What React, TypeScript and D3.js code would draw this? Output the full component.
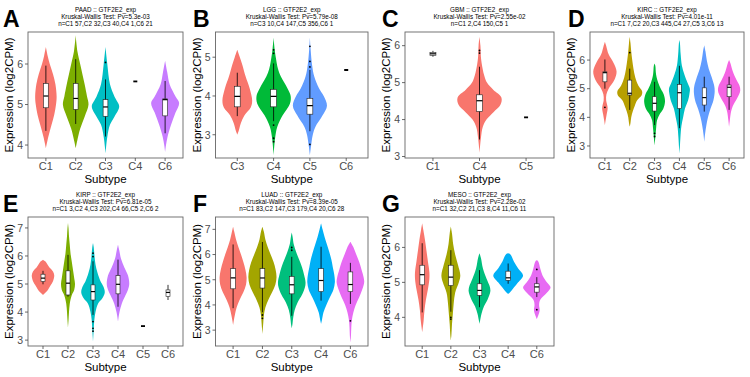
import React from "react";
import * as d3 from "d3";

type Profile = [number, number][];
type Box = [number, number, number, number, number];

// ---------- Panel A: PAAD ----------
const paadCategories = ["C1", "C2", "C3", "C4", "C6"];
const paadColors = ["#F8766D", "#7CAE00", "#00BFC4", "", "#C77CFF"];
const paadViolins: Profile[] = [
  [[6.42, 0], [6.2, 0.06], [6.0, 0.13], [5.75, 0.24], [5.5, 0.32], [5.2, 0.36], [5.0, 0.34], [4.75, 0.28], [4.5, 0.19], [4.2, 0.08], [3.92, 0]],
  [[6.71, 0], [6.3, 0.06], [6.0, 0.15], [5.5, 0.3], [5.2, 0.38], [5.0, 0.43], [4.7, 0.3], [4.4, 0.15], [4.1, 0.05], [3.92, 0]],
  [[6.42, 0], [6.0, 0.06], [5.5, 0.15], [5.2, 0.3], [4.95, 0.46], [4.7, 0.3], [4.5, 0.15], [4.2, 0.06], [3.95, 0.02], [3.79, 0]],
  [],
  [[6.08, 0], [5.8, 0.07], [5.5, 0.15], [5.2, 0.35], [5.04, 0.47], [4.8, 0.35], [4.5, 0.2], [4.2, 0.08], [4.0, 0.03], [3.83, 0]],
];
const paadBoxes: Box[] = [
  [4.35, 4.92, 5.21, 5.52, 5.96],
  [4.52, 4.88, 5.15, 5.52, 6.12],
  [4.21, 4.71, 4.94, 5.12, 5.62],
  [5.57, 5.57, 5.57, 5.57, 5.57],
  [4.29, 4.72, 5.12, 5.14, 5.58],
];
const paadOutliers: number[][] = [[], [], [6.04], [], []];
const paadDomain = [3.68, 6.79];
const paadTicks = [4, 5, 6];

// ---------- Panel B: LGG ----------
const lggCategories = ["C3", "C4", "C5", "C6"];
const lggColors = ["#F8766D", "#00BA38", "#619CFF", ""];
const lggViolins: Profile[] = [
  [[5.19, 0], [5.0, 0.07], [4.8, 0.14], [4.5, 0.23], [4.2, 0.34], [3.88, 0.41], [3.7, 0.37], [3.5, 0.2], [3.3, 0.1], [3.1, 0.04], [3.0, 0]],
  [[5.5, 0], [5.2, 0.03], [5.0, 0.06], [4.7, 0.12], [4.5, 0.2], [4.2, 0.38], [4.0, 0.47], [3.8, 0.45], [3.5, 0.25], [3.2, 0.1], [2.9, 0.04], [2.47, 0]],
  [[5.5, 0], [5.2, 0.02], [4.8, 0.06], [4.5, 0.12], [4.2, 0.25], [4.0, 0.38], [3.75, 0.47], [3.5, 0.35], [3.2, 0.15], [3.0, 0.08], [2.7, 0.03], [2.47, 0]],
  [],
];
const lggBoxes: Box[] = [
  [3.48, 3.72, 3.99, 4.25, 4.6],
  [3.35, 3.72, 3.99, 4.17, 4.84],
  [3.09, 3.53, 3.75, 3.94, 4.67],
  [4.67, 4.67, 4.67, 4.67, 4.67],
];
const lggOutliers: number[][] = [[], [5.19, 5.1, 3.25, 2.91, 2.82], [5.28, 4.89, 4.75, 2.75], []];
const lggDomain = [2.4, 5.65];
const lggTicks = [3, 4, 5];

// ---------- Panel C: GBM ----------
const gbmCategories = ["C1", "C4", "C5"];
const gbmColors = ["", "#F8766D", ""];
const gbmViolins: Profile[] = [
  [],
  [[6.24, 0], [6.0, 0.02], [5.7, 0.03], [5.5, 0.05], [5.2, 0.1], [5.0, 0.16], [4.8, 0.3], [4.6, 0.47], [4.4, 0.45], [4.2, 0.3], [4.0, 0.15], [3.8, 0.07], [3.5, 0.03], [3.1, 0]],
  [],
];
const gbmBoxes: Box[] = [
  [5.7, 5.74, 5.78, 5.82, 5.86],
  [3.46, 4.22, 4.51, 4.67, 5.43],
  [4.06, 4.06, 4.06, 4.06, 4.06],
];
const gbmOutliers: number[][] = [[], [5.87, 5.8], []];
const gbmDomain = [2.96, 6.37];
const gbmTicks = [3, 4, 5, 6];

// ---------- Panel D: KIRC ----------
const kircCategories = ["C1", "C2", "C3", "C4", "C5", "C6"];
const kircColors = ["#F8766D", "#B79F00", "#00BA38", "#00BFC4", "#619CFF", "#F564E3"];
const kircViolins: Profile[] = [
  [[6.64, 0], [6.5, 0.05], [6.2, 0.15], [5.9, 0.35], [5.6, 0.47], [5.3, 0.38], [5.0, 0.15], [4.8, 0.06], [4.6, 0.05], [4.4, 0.1], [4.3, 0.11], [4.1, 0.07], [3.9, 0.03], [3.73, 0]],
  [[6.81, 0], [6.6, 0.03], [6.3, 0.06], [6.0, 0.1], [5.7, 0.15], [5.4, 0.22], [5.1, 0.35], [4.9, 0.5], [4.75, 0.47], [4.6, 0.3], [4.4, 0.2], [4.2, 0.12], [4.0, 0.06], [3.8, 0.03], [3.67, 0]],
  [[5.88, 0], [5.8, 0.03], [5.5, 0.06], [5.2, 0.15], [5.0, 0.25], [4.8, 0.37], [4.55, 0.42], [4.3, 0.35], [4.1, 0.2], [3.9, 0.1], [3.6, 0.06], [3.3, 0.03], [3.03, 0]],
  [[6.7, 0], [6.6, 0.02], [6.2, 0.05], [5.8, 0.1], [5.5, 0.2], [5.2, 0.33], [5.0, 0.42], [4.8, 0.4], [4.6, 0.35], [4.3, 0.22], [4.0, 0.15], [3.7, 0.08], [3.3, 0.04], [3.0, 0.02], [2.74, 0]],
  [[6.52, 0], [6.3, 0.05], [6.0, 0.1], [5.7, 0.18], [5.4, 0.3], [5.1, 0.4], [4.9, 0.42], [4.6, 0.37], [4.3, 0.25], [4.0, 0.15], [3.7, 0.08], [3.4, 0.03], [3.15, 0]],
  [[6.0, 0], [5.9, 0.05], [5.6, 0.15], [5.3, 0.3], [5.1, 0.42], [4.95, 0.45], [4.8, 0.4], [4.6, 0.28], [4.4, 0.15], [4.2, 0.08], [3.9, 0.03], [3.67, 0]],
];
const kircBoxes: Box[] = [
  [5.0, 5.24, 5.56, 5.59, 6.02],
  [4.26, 4.78, 4.84, 5.3, 5.7],
  [3.73, 4.22, 4.49, 4.72, 5.24],
  [3.62, 4.31, 4.86, 5.15, 5.8],
  [4.2, 4.43, 4.69, 5.03, 5.42],
  [4.26, 4.72, 5.05, 5.13, 5.42],
];
const kircOutliers: number[][] = [[4.35], [6.26], [3.44, 3.33], [], [], []];
const kircDomain = [2.58, 6.98];
const kircTicks = [3, 4, 5, 6];

// ---------- Panel E: KIRP ----------
const kirpCategories = ["C1", "C2", "C3", "C4", "C5", "C6"];
const kirpColors = ["#F8766D", "#7CAE00", "#00BFC4", "#C77CFF", "", ""];
const kirpViolins: Profile[] = [
  [[5.87, 0], [5.8, 0.1], [5.6, 0.25], [5.45, 0.4], [5.3, 0.45], [5.1, 0.4], [4.95, 0.3], [4.8, 0.2], [4.65, 0.05], [4.61, 0]],
  [[7.18, 0], [7.0, 0.02], [6.7, 0.04], [6.4, 0.07], [6.1, 0.1], [5.8, 0.15], [5.5, 0.2], [5.2, 0.25], [5.0, 0.28], [4.8, 0.25], [4.6, 0.15], [4.3, 0.07], [4.0, 0.04], [3.7, 0.02], [3.44, 0]],
  [[6.46, 0], [6.3, 0.03], [6.0, 0.06], [5.7, 0.1], [5.4, 0.18], [5.1, 0.3], [4.9, 0.42], [4.7, 0.47], [4.5, 0.38], [4.3, 0.2], [4.0, 0.1], [3.7, 0.05], [3.4, 0.03], [3.1, 0.01], [2.94, 0]],
  [[6.4, 0], [6.2, 0.05], [5.9, 0.12], [5.6, 0.25], [5.3, 0.4], [5.0, 0.45], [4.8, 0.4], [4.6, 0.3], [4.3, 0.15], [4.0, 0.06], [3.8, 0.02], [3.66, 0]],
  [],
  [],
];
const kirpBoxes: Box[] = [
  [4.99, 5.09, 5.21, 5.35, 5.47],
  [4.55, 4.61, 5.03, 5.47, 6.04],
  [3.9, 4.43, 4.73, 4.97, 5.81],
  [4.19, 4.65, 4.99, 5.3, 5.87],
  [3.5, 3.5, 3.5, 3.5, 3.5],
  [4.43, 4.55, 4.7, 4.79, 4.97],
];
const kirpOutliers: number[][] = [[], [], [6.1, 5.98, 3.66, 3.42, 3.32], [], [], []];
const kirpDomain = [2.79, 7.39];
const kirpTicks = [3, 4, 5, 6, 7];

// ---------- Panel F: LUAD ----------
const luadCategories = ["C1", "C2", "C3", "C4", "C6"];
const luadColors = ["#F8766D", "#A3A500", "#00BF7D", "#00B0F6", "#E76BF3"];
const luadViolins: Profile[] = [
  [[7.1, 0], [6.9, 0.04], [6.6, 0.1], [6.3, 0.18], [6.0, 0.27], [5.7, 0.35], [5.4, 0.42], [5.1, 0.46], [4.8, 0.44], [4.5, 0.35], [4.2, 0.22], [3.9, 0.12], [3.6, 0.06], [3.35, 0.02], [3.2, 0]],
  [[7.1, 0], [6.9, 0.05], [6.6, 0.1], [6.3, 0.18], [6.0, 0.28], [5.7, 0.38], [5.4, 0.45], [5.1, 0.48], [4.8, 0.44], [4.5, 0.33], [4.2, 0.2], [3.9, 0.1], [3.6, 0.05], [3.3, 0.03], [3.0, 0.01], [2.84, 0]],
  [[6.87, 0], [6.7, 0.03], [6.4, 0.07], [6.1, 0.15], [5.8, 0.25], [5.5, 0.35], [5.2, 0.42], [4.9, 0.47], [4.7, 0.45], [4.4, 0.35], [4.1, 0.2], [3.8, 0.1], [3.5, 0.05], [3.2, 0.02], [3.07, 0]],
  [[7.24, 0], [7.0, 0.05], [6.7, 0.12], [6.4, 0.2], [6.1, 0.28], [5.8, 0.35], [5.5, 0.4], [5.2, 0.45], [4.9, 0.47], [4.6, 0.42], [4.3, 0.3], [4.0, 0.18], [3.7, 0.08], [3.4, 0.03], [3.24, 0]],
  [[6.51, 0], [6.3, 0.1], [6.0, 0.2], [5.7, 0.3], [5.4, 0.38], [5.1, 0.45], [4.9, 0.47], [4.6, 0.4], [4.3, 0.3], [4.0, 0.18], [3.7, 0.1], [3.4, 0.05], [3.1, 0.03], [2.8, 0.02], [2.51, 0]],
];
const luadBoxes: Box[] = [
  [3.87, 4.64, 5.07, 5.44, 6.4],
  [3.71, 4.67, 5.07, 5.44, 6.5],
  [3.57, 4.44, 4.8, 5.13, 5.91],
  [4.17, 4.53, 4.97, 5.44, 6.31],
  [4.04, 4.53, 4.81, 5.31, 5.67],
];
const luadOutliers: number[][] = [[], [3.6, 3.47], [6.28, 6.17], [], [3.37]];
const luadDomain = [2.37, 7.49];
const luadTicks = [3, 4, 5, 6, 7];

// ---------- Panel G: MESO ----------
const mesoCategories = ["C1", "C2", "C3", "C4", "C6"];
const mesoColors = ["#F8766D", "#A3A500", "#00BF7D", "#00B0F6", "#E76BF3"];
const mesoViolins: Profile[] = [
  [[6.69, 0], [6.5, 0.04], [6.2, 0.1], [5.9, 0.15], [5.6, 0.2], [5.3, 0.25], [5.1, 0.25], [4.8, 0.2], [4.5, 0.13], [4.2, 0.08], [3.9, 0.05], [3.7, 0.02], [3.57, 0]],
  [[6.6, 0], [6.4, 0.04], [6.1, 0.08], [5.8, 0.15], [5.5, 0.25], [5.2, 0.33], [5.0, 0.28], [4.7, 0.15], [4.4, 0.1], [4.1, 0.07], [3.8, 0.04], [3.5, 0.02], [3.33, 0]],
  [[5.83, 0], [5.7, 0.05], [5.4, 0.12], [5.1, 0.25], [4.9, 0.35], [4.75, 0.38], [4.5, 0.28], [4.3, 0.15], [4.1, 0.07], [3.9, 0.02], [3.81, 0]],
  [[5.83, 0], [5.8, 0.08], [5.6, 0.2], [5.4, 0.35], [5.2, 0.52], [5.0, 0.35], [4.85, 0.2], [4.7, 0.05], [4.67, 0]],
  [[5.63, 0], [5.6, 0.05], [5.4, 0.12], [5.2, 0.2], [5.0, 0.35], [4.85, 0.48], [4.7, 0.35], [4.5, 0.12], [4.35, 0.08], [4.2, 0.1], [4.05, 0.05], [3.95, 0]],
];
const mesoBoxes: Box[] = [
  [4.14, 4.93, 5.22, 5.49, 6.12],
  [4.16, 4.91, 5.15, 5.49, 5.92],
  [4.29, 4.63, 4.77, 4.96, 5.35],
  [4.96, 5.06, 5.13, 5.32, 5.54],
  [4.58, 4.72, 4.87, 4.96, 5.15],
];
const mesoOutliers: number[][] = [[], [4.0, 3.95], [], [], [5.37, 4.22]];
const mesoDomain = [3.18, 6.87];
const mesoTicks = [4, 5, 6];

// ---------- Titles ----------
const panelLetters = ["A", "B", "C", "D", "E", "F", "G"];
const panelTitles = [
  "PAAD :: GTF2E2_exp",
  "LGG :: GTF2E2_exp",
  "GBM :: GTF2E2_exp",
  "KIRC :: GTF2E2_exp",
  "KIRP :: GTF2E2_exp",
  "LUAD :: GTF2E2_exp",
  "MESO :: GTF2E2_exp",
];
const panelTests = [
  "Kruskal-Wallis Test: Pv=5.3e-03",
  "Kruskal-Wallis Test: Pv=5.79e-08",
  "Kruskal-Wallis Test: Pv=2.55e-02",
  "Kruskal-Wallis Test: Pv=4.01e-11",
  "Kruskal-Wallis Test: Pv=6.81e-05",
  "Kruskal-Wallis Test: Pv=8.39e-05",
  "Kruskal-Wallis Test: Pv=2.28e-02",
];
const panelCounts = [
  "n=C1 57,C2 32,C3 40,C4 1,C6 21",
  "n=C3 10,C4 147,C5 356,C6 1",
  "n=C1 2,C4 150,C5 1",
  "n=C1 7,C2 20,C3 445,C4 27,C5 3,C6 13",
  "n=C1 3,C2 4,C3 202,C4 66,C5 2,C6 2",
  "n=C1 83,C2 147,C3 179,C4 20,C6 28",
  "n=C1 32,C2 21,C3 8,C4 11,C6 11",
];
const yAxisTitle = "Expression (log2CPM)";
const xAxisTitle = "Subtype";

const panelsData = [
  { cats: paadCategories, colors: paadColors, violins: paadViolins, boxes: paadBoxes, outliers: paadOutliers, domain: paadDomain, ticks: paadTicks },
  { cats: lggCategories, colors: lggColors, violins: lggViolins, boxes: lggBoxes, outliers: lggOutliers, domain: lggDomain, ticks: lggTicks },
  { cats: gbmCategories, colors: gbmColors, violins: gbmViolins, boxes: gbmBoxes, outliers: gbmOutliers, domain: gbmDomain, ticks: gbmTicks },
  { cats: kircCategories, colors: kircColors, violins: kircViolins, boxes: kircBoxes, outliers: kircOutliers, domain: kircDomain, ticks: kircTicks },
  { cats: kirpCategories, colors: kirpColors, violins: kirpViolins, boxes: kirpBoxes, outliers: kirpOutliers, domain: kirpDomain, ticks: kirpTicks },
  { cats: luadCategories, colors: luadColors, violins: luadViolins, boxes: luadBoxes, outliers: luadOutliers, domain: luadDomain, ticks: luadTicks },
  { cats: mesoCategories, colors: mesoColors, violins: mesoViolins, boxes: mesoBoxes, outliers: mesoOutliers, domain: mesoDomain, ticks: mesoTicks },
];

// layout
const colLeft = [28, 215.5, 405, 590];
const colRight = [183, 368, 554, 744];
const letterX = [3, 193, 382, 568];
const rowTop = [32, 217];
const rowBottom = [158, 346];
const rowOffset = [0, 185];

const FONT = "'Liberation Sans', Arial, Helvetica, sans-serif";

function Panel({ index }: { index: number }) {
  const p = panelsData[index];
  const col = index < 4 ? index : index - 4;
  const row = index < 4 ? 0 : 1;
  const left = colLeft[col];
  const right = colRight[col];
  const top = rowTop[row];
  const bottom = rowBottom[row];
  const off = rowOffset[row];

  const x = d3.scalePoint<string>().domain(p.cats).range([left, right]).padding(0.6);
  const step = x.step();
  const y = d3.scaleLinear().domain(p.domain).range([bottom, top]);
  const boxW = Math.max(4, Math.min(6, step * 0.16));
  const cx = (left + right) / 2;
  const cy = (top + bottom) / 2;

  return (
    <g>
      <defs>
        <clipPath id={`clip${index}`}>
          <rect x={left} y={top} width={right - left} height={bottom - top} />
        </clipPath>
      </defs>
      <g clipPath={`url(#clip${index})`}>
        {p.cats.map((c, i) => {
          const prof = p.violins[i];
          if (!prof.length) return null;
          const xc = x(c) as number;
          const area = d3
            .area<[number, number]>()
            .y((d) => y(d[0]))
            .x0((d) => xc - d[1] * step)
            .x1((d) => xc + d[1] * step)
            .curve(d3.curveCatmullRom.alpha(0.5));
          return <path key={c} d={area(prof) || ""} fill={p.colors[i]} stroke="none" />;
        })}
        {p.cats.map((c, i) => {
          const b = p.boxes[i];
          const xc = x(c) as number;
          if (b[0] === b[4]) {
            return (
              <line key={c} x1={xc - 2} x2={xc + 2} y1={y(b[2])} y2={y(b[2])} stroke="#000" strokeWidth={1.8} />
            );
          }
          return (
            <g key={c}>
              <line x1={xc} x2={xc} y1={y(b[4])} y2={y(b[0])} stroke="#000" strokeWidth={0.8} />
              <rect
                x={xc - boxW / 2}
                y={y(b[3])}
                width={boxW}
                height={Math.max(0.5, y(b[1]) - y(b[3]))}
                fill="#fff"
                stroke="#222"
                strokeWidth={0.6}
              />
              <line x1={xc - boxW / 2} x2={xc + boxW / 2} y1={y(b[2])} y2={y(b[2])} stroke="#000" strokeWidth={1.2} />
              {p.outliers[i].map((o, k) => (
                <circle key={k} cx={xc} cy={y(o)} r={0.9} fill="#000" />
              ))}
            </g>
          );
        })}
      </g>
      <rect x={left} y={top} width={right - left} height={bottom - top} fill="none" stroke="#666" strokeWidth={0.9} />
      {p.ticks.map((t) => (
        <g key={t}>
          <line x1={left - 3} x2={left} y1={y(t)} y2={y(t)} stroke="#444" strokeWidth={0.8} />
          <text x={left - 5} y={y(t)} dy="0.36em" textAnchor="end" fontSize={10.5} fill="#4D4D4D" fontFamily={FONT}>
            {t}
          </text>
        </g>
      ))}
      {p.cats.map((c) => (
        <g key={c}>
          <line x1={x(c)} x2={x(c)} y1={bottom} y2={bottom + 3} stroke="#444" strokeWidth={0.8} />
          <text x={x(c)} y={bottom + 12} textAnchor="middle" fontSize={11} fill="#4D4D4D" fontFamily={FONT}>
            {c}
          </text>
        </g>
      ))}
      <text x={cx} y={bottom + 24.5} textAnchor="middle" fontSize={11.5} fill="#000" fontFamily={FONT}>
        {xAxisTitle}
      </text>
      <text
        transform={`translate(${left - 19},${cy}) rotate(-90)`}
        dy="0.36em"
        textAnchor="middle"
        fontSize={11.5}
        fill="#000"
        fontFamily={FONT}
      >
        {yAxisTitle}
      </text>
      <text x={cx} y={off + 12} textAnchor="middle" fontSize={6.3} fill="#000" fontFamily={FONT}>
        {panelTitles[index]}
      </text>
      <text x={cx} y={off + 19} textAnchor="middle" fontSize={6.3} fill="#000" fontFamily={FONT}>
        {panelTests[index]}
      </text>
      <text x={cx} y={off + 26} textAnchor="middle" fontSize={6.3} fill="#000" fontFamily={FONT}>
        {panelCounts[index]}
      </text>
      <text x={letterX[col]} y={off + 27} fontSize={23} fontWeight="bold" fill="#000" fontFamily={FONT}>
        {panelLetters[index]}
      </text>
    </g>
  );
}

export default function App() {
  return (
    <svg
      width={750}
      height={377}
      viewBox="0 0 750 377"
      style={{ position: "absolute", left: 0, top: 0, background: "#fff" }}
    >
      <rect x={0} y={0} width={750} height={377} fill="#fff" />
      {panelsData.map((_, i) => (
        <Panel key={i} index={i} />
      ))}
    </svg>
  );
}
